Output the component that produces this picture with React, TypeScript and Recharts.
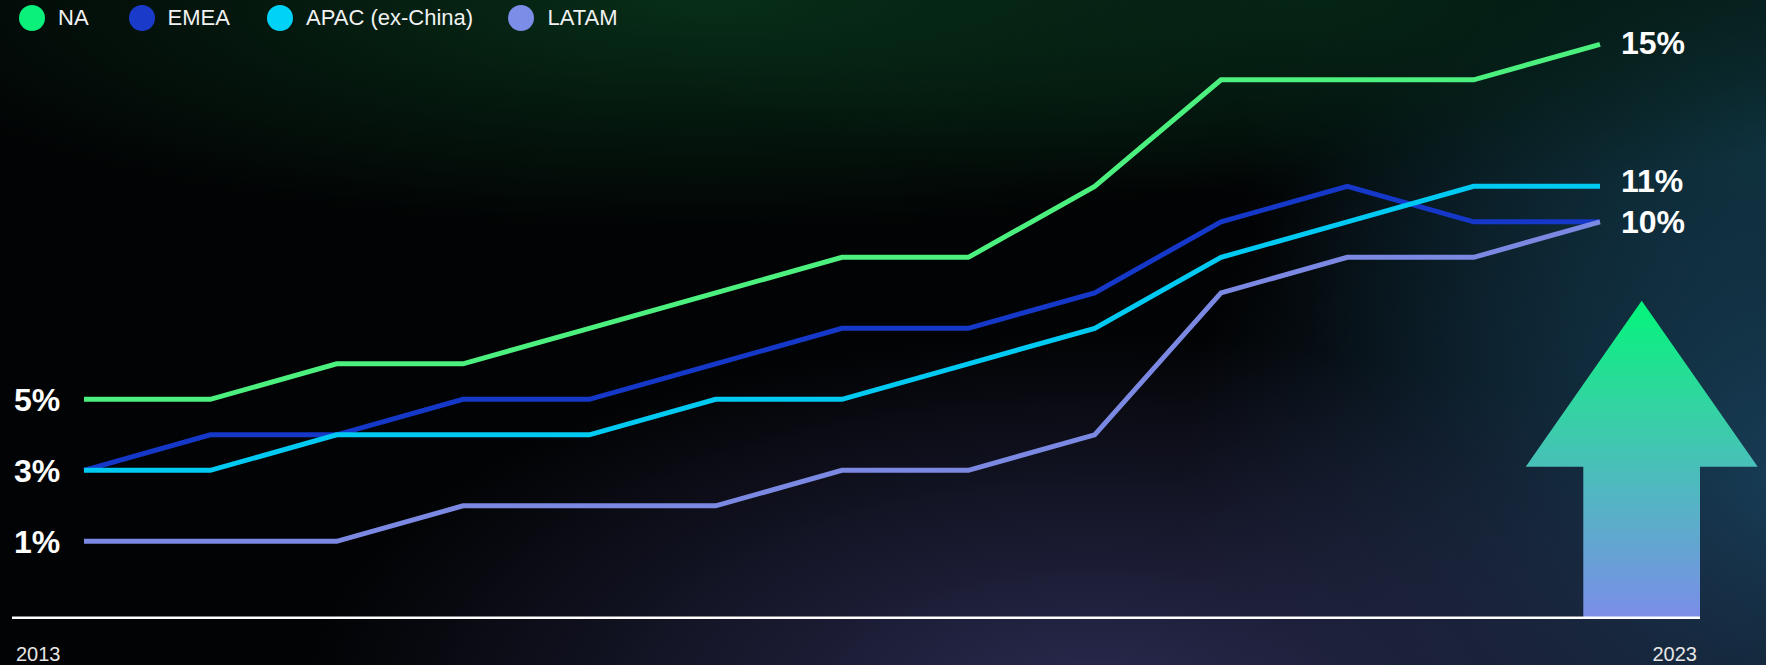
import React from 'react';
import { LineChart, Line, XAxis, YAxis, LabelList } from 'recharts';

const periods = [0, 1, 2, 3, 4, 5, 6, 7, 8, 9, 10, 11, 12];
const naValues = [5, 5, 6, 6, 7, 8, 9, 9, 11, 14, 14, 14, 15];
const emeaValues = [3, 4, 4, 5, 5, 6, 7, 7, 8, 10, 11, 10, 10];
const apacValues = [3, 3, 4, 4, 4, 5, 5, 6, 7, 9, 10, 11, 11];
const latamValues = [1, 1, 1, 2, 2, 2, 3, 3, 4, 8, 9, 9, 10];

const seriesNames = ['NA', 'EMEA', 'APAC (ex-China)', 'LATAM'];
const seriesKeys = ['na', 'emea', 'apac', 'latam'];
const lineColors = ['#4cf07e', '#1538c8', '#00c9f2', '#7b89e2'];
const legendColors = ['#0af07a', '#1a3bca', '#00d2f7', '#7b8de6'];

// which series carries the start / end value labels (overlapping ones are shown once)
const showStartLabel = [true, false, true, true];
const showEndLabel = [true, false, true, true];
const endLabelShift = [-2, 0, -6, 0];
const yearLabels = ['2013', '2023'];
const axisTicks = [0, 12];

const data = periods.map((t, i) => ({
  t,
  na: naValues[i],
  emea: emeaValues[i],
  apac: apacValues[i],
  latam: latamValues[i],
}));

const W = 1766;
const H = 665;
const PAD_L = 72;
const PAD_R = 100;
const Y_DOMAIN: [number, number] = [-1.15, 16];
const FONT = '"Liberation Sans", Arial, Helvetica, sans-serif';
const LAST = periods.length - 1;

const YearTick = (props: any) => {
  const { x, y, index } = props;
  const first = index === 0;
  return (
    <text
      x={first ? x - PAD_L + 4 : x + PAD_R - 3}
      y={y + 43}
      textAnchor={first ? 'start' : 'end'}
      fill="#e6e6e6"
      fontSize={20}
      fontFamily={FONT}
    >
      {yearLabels[first ? 0 : 1]}
    </text>
  );
};

const makeEndLabel = (seriesIdx: number) => (props: any) => {
  const { x, y, value, index } = props;
  const isStart = index === 0 && showStartLabel[seriesIdx];
  const isEnd = index === LAST && showEndLabel[seriesIdx];
  if (!isStart && !isEnd) return null;
  return (
    <text
      x={isStart ? x - 70 : x + 21}
      y={isEnd ? y + endLabelShift[seriesIdx] : y}
      dy="0.355em"
      textAnchor="start"
      fill="#ffffff"
      fontSize={32}
      fontWeight={700}
      fontFamily={FONT}
    >
      {`${value}%`}
    </text>
  );
};

export default function App() {
  return (
    <div
      style={{
        position: 'fixed',
        left: 0,
        top: 0,
        width: W,
        height: H,
        overflow: 'hidden',
        background: [
          'radial-gradient(ellipse 50% 35% at 40% 0%, rgba(7,46,24,1) 0%, rgba(7,46,24,0) 100%)',
          'radial-gradient(ellipse 40% 30% at 75% 0%, rgba(4,32,20,1) 0%, rgba(4,32,20,0) 100%)',
          'radial-gradient(ellipse 45% 55% at 62% 105%, rgba(42,43,80,1) 0%, rgba(42,43,80,0) 100%)',
          'radial-gradient(ellipse 35% 80% at 102% 72%, rgba(24,62,88,1) 0%, rgba(24,62,88,0) 100%)',
          'radial-gradient(ellipse 30% 60% at 100% 20%, rgba(10,42,48,1) 0%, rgba(10,42,48,0) 100%)',
          '#020304',
        ].join(','),
        fontFamily: FONT,
      }}
    >
      <svg width={W} height={H} style={{ position: 'absolute', left: 0, top: 0 }}>
        <defs>
          <linearGradient id="arrowGrad" x1="0" y1="0" x2="0" y2="1">
            <stop offset="0%" stopColor="#03f57a" />
            <stop offset="30%" stopColor="#2fd79e" />
            <stop offset="52%" stopColor="#48c0b8" />
            <stop offset="100%" stopColor="#7c8de8" />
          </linearGradient>
        </defs>
        <polygon
          points="1641.7,300.7 1757.7,466.7 1700,466.7 1700,617.3 1583.3,617.3 1583.3,466.7 1525.7,466.7"
          fill="url(#arrowGrad)"
        />
      </svg>

      <div style={{ position: 'absolute', left: 0, top: 0, width: W, height: 40 }}>
        {seriesNames.map((name, i) => {
          const cx = [32, 141.5, 280, 521.4][i];
          return (
            <div key={name}>
              <div
                style={{
                  position: 'absolute',
                  left: cx - 13,
                  top: 5,
                  width: 26,
                  height: 26,
                  borderRadius: '50%',
                  background: legendColors[i],
                }}
              />
              <div
                style={{
                  position: 'absolute',
                  left: cx + 26,
                  top: 5,
                  height: 26,
                  lineHeight: '26px',
                  fontSize: 22,
                  color: '#f2f2f2',
                  whiteSpace: 'nowrap',
                }}
              >
                {name}
              </div>
            </div>
          );
        })}
      </div>

      <div style={{ position: 'absolute', left: 0, top: 0 }}>
        <LineChart
          width={W}
          height={H}
          data={data}
          margin={{ top: 8.8, right: 66, bottom: 0, left: 12 }}
        >
          <XAxis
            type="number"
            dataKey="t"
            domain={[0, 12]}
            padding={{ left: PAD_L, right: PAD_R }}
            height={47.3}
            ticks={axisTicks}
            tickLine={false}
            tickSize={0}
            tickMargin={0}
            interval={0}
            tick={<YearTick />}
            axisLine={{ stroke: '#ffffff', strokeWidth: 2.5 }}
          />
          <YAxis hide domain={Y_DOMAIN} allowDataOverflow />
          {seriesKeys.map((k, i) => (
            <Line
              key={k}
              type="linear"
              dataKey={k}
              name={seriesNames[i]}
              stroke={lineColors[i]}
              strokeWidth={5}
              dot={false}
              activeDot={false}
              isAnimationActive={false}
            >
              <LabelList dataKey={k} content={makeEndLabel(i)} />
            </Line>
          ))}
        </LineChart>
      </div>
    </div>
  );
}
